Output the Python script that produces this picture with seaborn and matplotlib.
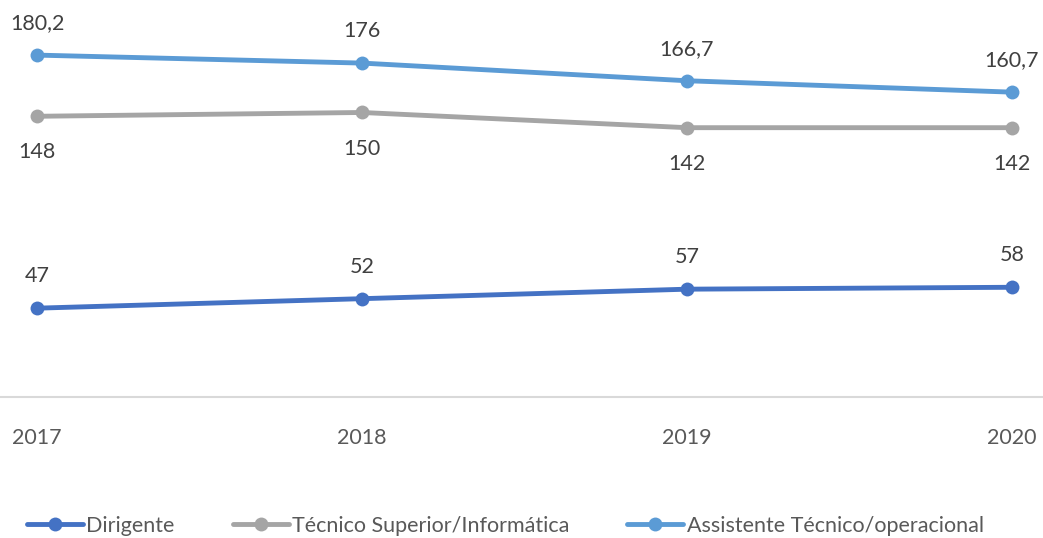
import matplotlib
matplotlib.use("Agg")
import matplotlib.pyplot as plt
import pandas as pd
import seaborn as sns

anos = ["2017", "2018", "2019", "2020"]
series = ["Dirigente", "Técnico Superior/Informática", "Assistente Técnico/operacional"]
dirigente = [47, 52, 57, 58]
tecnico = [148, 150, 142, 142]
assistente = [180.2, 176, 166.7, 160.7]

cores = ["#4472C4", "#A5A5A5", "#5B9BD5"]
# label offset in points (positive = above the point)
offsets = [23, -26, 23]
FS = 15.5

sns.set_theme(style="white")
plt.rcParams["font.family"] = ["Lato", "DejaVu Sans"]

rows = []
for nome, vals in zip(series, [dirigente, tecnico, assistente]):
    for i, v in enumerate(vals):
        rows.append({"pos": i, "valor": v, "serie": nome})
df = pd.DataFrame(rows)

fig = plt.figure(figsize=(10.43, 5.38), dpi=100)
ax = fig.add_axes([0, 0.2612, 1, 0.7063])

sns.lineplot(data=df, x="pos", y="valor", hue="serie", hue_order=series,
             palette=cores, marker="o", markersize=10, markeredgewidth=0,
             linewidth=3.5, ax=ax, legend=True)

for nome, vals, off in zip(series, [dirigente, tecnico, assistente], offsets):
    for i, v in enumerate(vals):
        txt = f"{v:g}".replace(".", ",")
        ax.annotate(txt, (i, v), xytext=(0, off), textcoords="offset points",
                    ha="center", va="center", fontsize=FS, color="#404040")

ax.set_xlim(-37 / 325, (1043 - 37) / 325)
ax.set_ylim(0, 200)
ax.set_xticks(range(len(anos)))
ax.set_xticklabels(anos, fontsize=FS, color="#595959")
ax.tick_params(axis="x", length=0, pad=22)
ax.set_yticks([])
ax.set_xlabel("")
ax.set_ylabel("")
for s in ["top", "right", "left"]:
    ax.spines[s].set_visible(False)
ax.spines["bottom"].set_color("#D9D9D9")
ax.spines["bottom"].set_linewidth(1.5)

handles, labels = ax.get_legend_handles_labels()
ax.get_legend().remove()
fig.legend(handles, labels, loc="center left", bbox_to_anchor=(27 / 1043, 12 / 538),
           bbox_transform=fig.transFigure, ncol=3, frameon=False, fontsize=FS,
           handlelength=2.6, handletextpad=0.15, columnspacing=2.7,
           labelcolor="#595959", borderaxespad=0, borderpad=0, numpoints=1)

fig.savefig("out.png", dpi=100)
